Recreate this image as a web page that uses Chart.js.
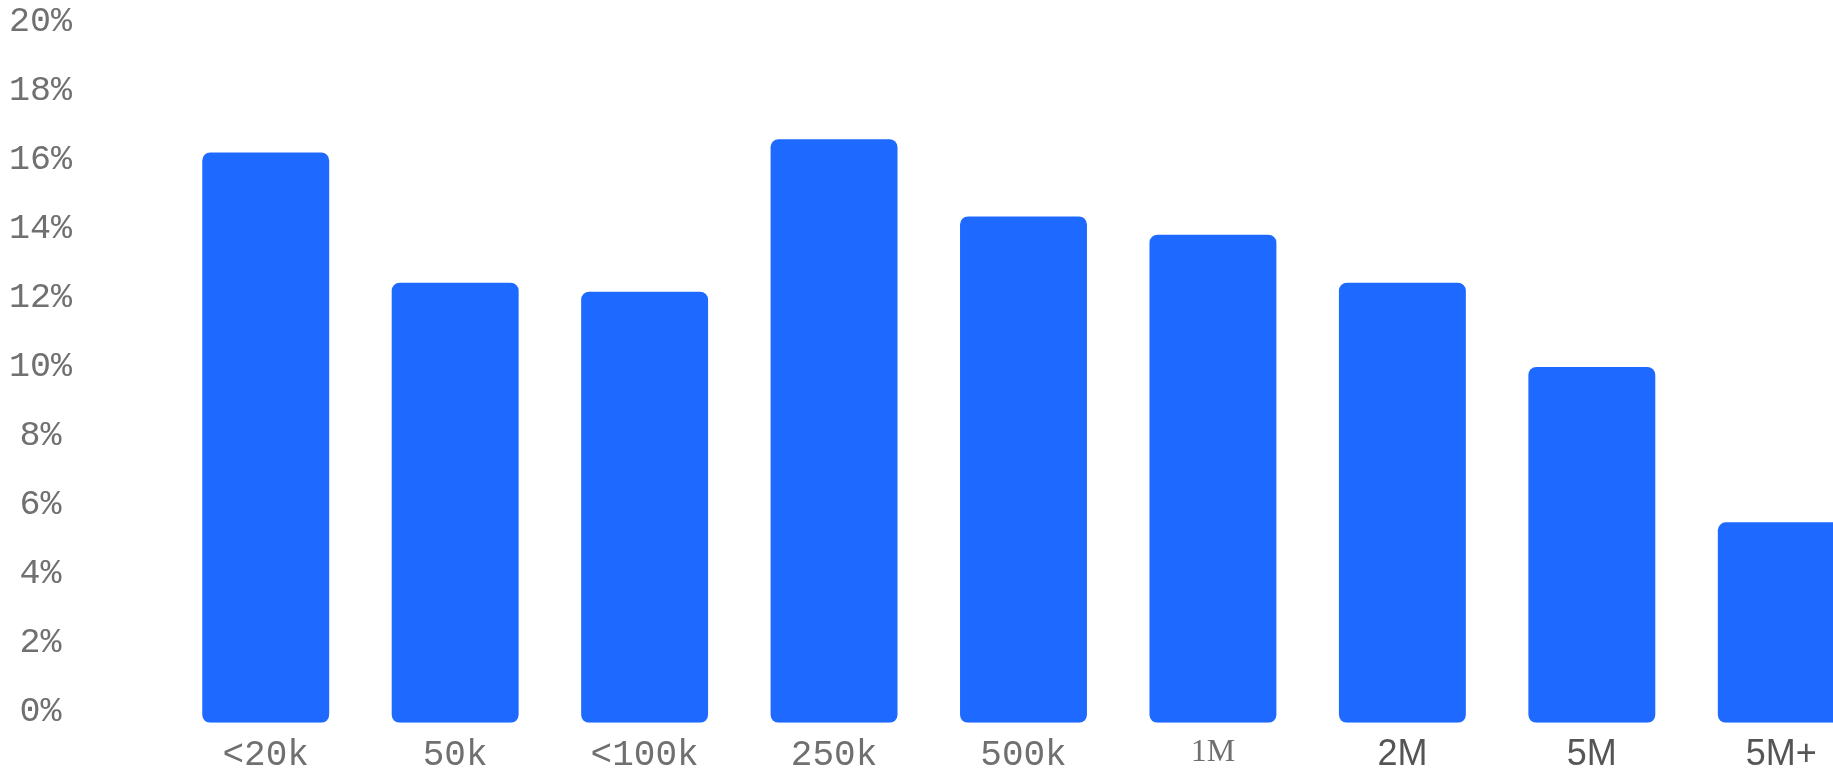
<!DOCTYPE html>
<html>
<head>
<meta charset="utf-8">
<script src="https://cdn.jsdelivr.net/npm/chart.js@4"></script>
<style>
    html, body { margin: 0; padding: 0; background: #fff; overflow: hidden; }
    #wrap { position: relative; width: 1876px; height: 788px; }
</style>
</head>
<body>
<div id="wrap"><canvas id="barChart"></canvas></div>
<script>
// Share of respondents by size bucket
const categories = ['<20k', '50k', '<100k', '250k', '500k', '1M', '2M', '5M', '5M+'];
const shares = [16.3, 12.58, 12.32, 16.68, 14.47, 13.95, 12.58, 10.17, 5.73];
const yTicks = [0, 2, 4, 6, 8, 10, 12, 14, 16, 18, 20];

// the x labels are not all set in the same face in the original
const monoFont = "'Courier New', 'Liberation Mono', monospace";
const serifFont = "'Times New Roman', 'Liberation Serif', serif";
const sansFont = "Arial, 'Liberation Sans', sans-serif";

function xTickFont(ctx) {
    const i = ctx.index;
    if (i === 5) return { family: serifFont, size: 32 };
    if (i > 5) return { family: sansFont, size: 36 };
    return { family: monoFont, size: 36 };
}

document.addEventListener('DOMContentLoaded', function() {
    const el = document.getElementById('barChart');

    new Chart(el, {
        type: 'bar',
        data: {
            labels: categories,
            datasets: [{
                data: shares,
                yAxisID: 'y',
                backgroundColor: '#1E69FF',
                borderWidth: 0,
                borderRadius: 8,
                borderSkipped: false,
                categoryPercentage: 1,
                barPercentage: 0.67
            }]
        },
        options: {
            responsive: true,
            maintainAspectRatio: false,
            animation: false,
            layout: {
                padding: { top: 23, right: 0, bottom: 0, left: 0 }
            },
            plugins: {
                legend: { display: false },
                tooltip: { enabled: false }
            },
            scales: {
                x: {
                    grid: { display: false, drawTicks: false },
                    border: { display: false },
                    ticks: {
                        padding: 11,
                        color: function(ctx) { return ctx.index > 5 ? '#555' : '#707070'; },
                        font: xTickFont
                    }
                },
                // value axis the bars are drawn on
                y: {
                    display: false,
                    min: 0,
                    max: 20
                },
                // label axis: the original's % labels sit on a slightly tighter
                // spacing than its gridlines, so they get their own range
                yl: {
                    position: 'left',
                    min: -0.32,
                    max: 19.97,
                    afterBuildTicks: function(scale) {
                        scale.ticks = yTicks.map(v => ({ value: v }));
                    },
                    afterFit: function(scale) {
                        scale.width = 171;
                        scale.paddingTop = 20;
                        scale.paddingBottom = 20;
                    },
                    grid: { display: false, drawTicks: false },
                    border: { display: false },
                    ticks: {
                        autoSkip: false,
                        crossAlign: 'center',
                        padding: 99,
                        color: '#707070',
                        font: { family: monoFont, size: 35 },
                        callback: function(value) { return value + '%'; }
                    }
                }
            }
        }
    });
});
</script>
</body>
</html>
